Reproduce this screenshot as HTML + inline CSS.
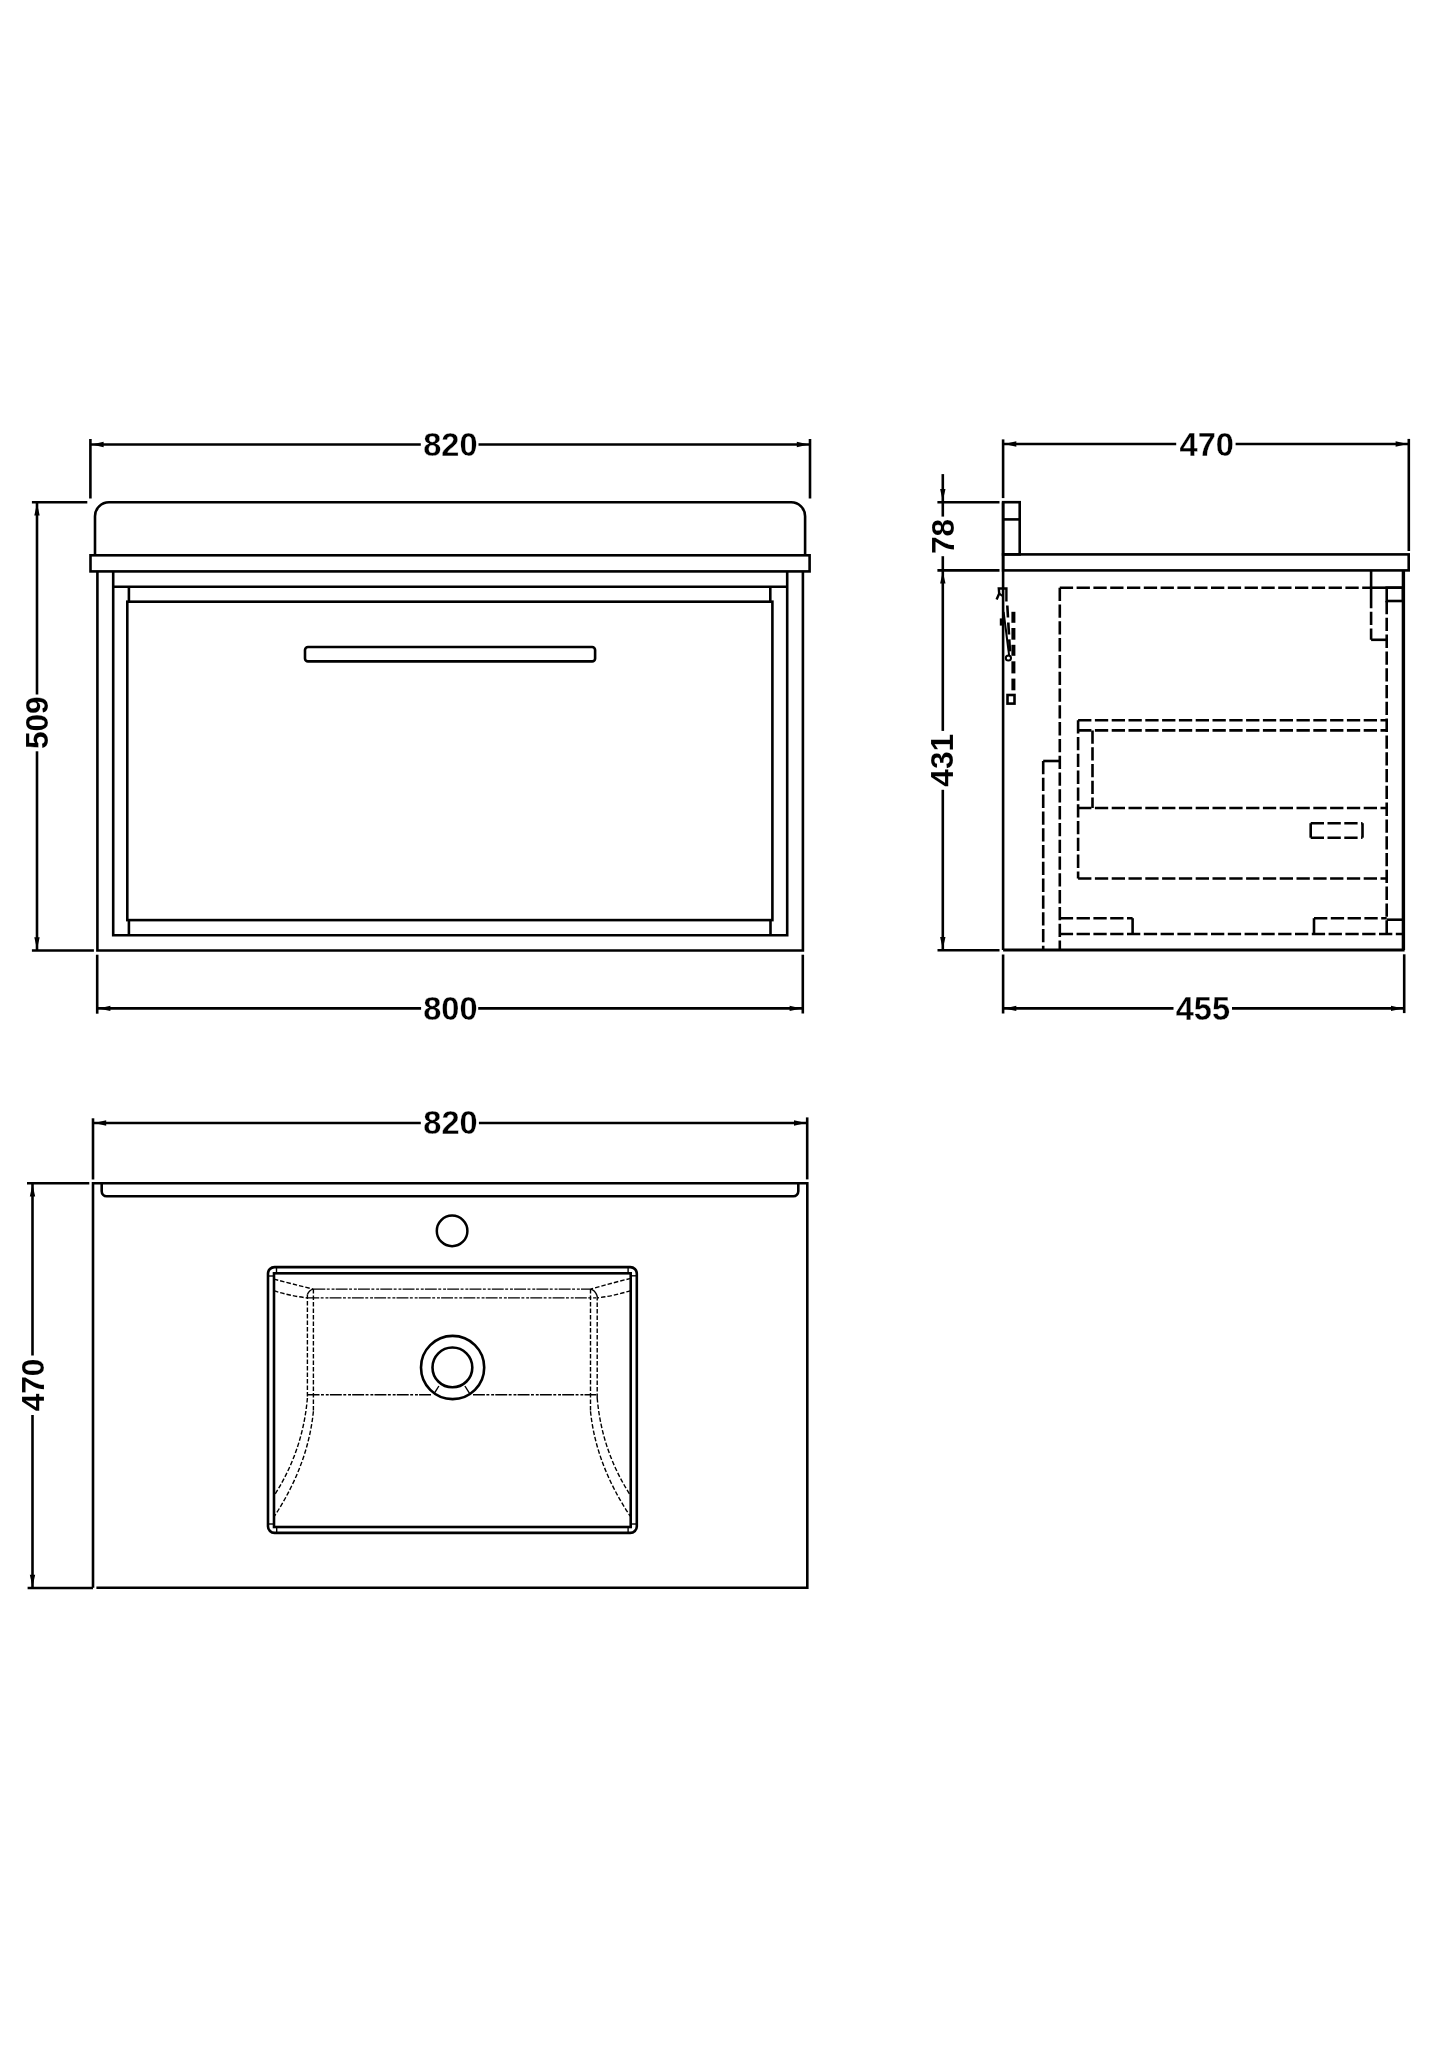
<!DOCTYPE html>
<html><head><meta charset="utf-8"><title>Vanity unit drawing</title>
<style>
html,body{margin:0;padding:0;background:#fff;}
svg{display:block;}
text{-webkit-font-smoothing:antialiased;}
text{font-family:"Liberation Sans",sans-serif;font-weight:bold;fill:#000;stroke:#fff;stroke-width:0.3px;}
text.r{stroke-width:0.07px;}
</style></head>
<body>
<svg width="1445" height="2045" viewBox="0 0 1445 2045" style="will-change:transform">
<rect x="0" y="0" width="1445" height="2045" fill="#fff"/>
<g stroke="#000" fill="none" stroke-linecap="butt" stroke-linejoin="miter">
<line x1="90.4" y1="439.0" x2="90.4" y2="498.5" stroke-width="2.6"/>
<line x1="810.0" y1="439.0" x2="810.0" y2="498.5" stroke-width="2.6"/>
<line x1="90.4" y1="444.5" x2="420.8" y2="444.5" stroke-width="2.6"/>
<line x1="478.5" y1="444.5" x2="810.0" y2="444.5" stroke-width="2.6"/>
<polygon points="91.6,444.5 103.6,441.8 103.6,447.2" fill="#000" stroke="none"/>
<polygon points="808.8,444.5 796.8,441.8 796.8,447.2" fill="#000" stroke="none"/>
<path d="M95,555.3 V516.2 A14,14 0 0 1 109,502.2 H791.1 A14,14 0 0 1 805.1,516.2 V555.3" stroke-width="2.6" fill="none"/>
<rect x="90.5" y="555.3" width="719.1" height="16.1" stroke-width="2.6" fill="none"/>
<path d="M97.4,571.4 V950.5 H802.9 V571.4" stroke-width="2.6" fill="none"/>
<path d="M113.2,571.4 V935.2 H787.2 V571.4" stroke-width="2.6" fill="none"/>
<line x1="113.2" y1="586.8" x2="787.2" y2="586.8" stroke-width="2.6"/>
<rect x="127.3" y="601.7" width="645.1" height="318.4" stroke-width="2.6" fill="none"/>
<line x1="128.9" y1="586.8" x2="128.9" y2="601.7" stroke-width="2.6"/>
<line x1="770.3" y1="586.8" x2="770.3" y2="601.7" stroke-width="2.6"/>
<line x1="128.9" y1="920.1" x2="128.9" y2="935.2" stroke-width="2.6"/>
<line x1="770.5" y1="920.1" x2="770.5" y2="935.2" stroke-width="2.6"/>
<rect x="305.0" y="647.0" width="290.1" height="14.4" rx="3" stroke-width="2.6" fill="none"/>
<line x1="31.9" y1="502.2" x2="87.3" y2="502.2" stroke-width="2.6"/>
<line x1="31.9" y1="950.5" x2="93.9" y2="950.5" stroke-width="2.6"/>
<line x1="37.0" y1="502.2" x2="37.0" y2="694.5" stroke-width="2.6"/>
<line x1="37.0" y1="751.3" x2="37.0" y2="950.5" stroke-width="2.6"/>
<polygon points="37.0,503.4 34.3,515.4 39.7,515.4" fill="#000" stroke="none"/>
<polygon points="37.0,949.3 34.3,937.3 39.7,937.3" fill="#000" stroke="none"/>
<line x1="97.2" y1="954.7" x2="97.2" y2="1013.7" stroke-width="2.6"/>
<line x1="802.8" y1="954.7" x2="802.8" y2="1013.5" stroke-width="2.6"/>
<line x1="97.2" y1="1008.4" x2="421.1" y2="1008.4" stroke-width="2.6"/>
<line x1="478.2" y1="1008.4" x2="802.8" y2="1008.4" stroke-width="2.6"/>
<polygon points="98.4,1008.4 110.4,1005.7 110.4,1011.1" fill="#000" stroke="none"/>
<polygon points="801.6,1008.4 789.6,1005.7 789.6,1011.1" fill="#000" stroke="none"/>
<line x1="1003.1" y1="439.4" x2="1003.1" y2="498.1" stroke-width="2.6"/>
<line x1="1408.8" y1="438.9" x2="1408.8" y2="551.0" stroke-width="2.6"/>
<line x1="1003.1" y1="444.0" x2="1176.2" y2="444.0" stroke-width="2.6"/>
<line x1="1235.6" y1="444.0" x2="1408.8" y2="444.0" stroke-width="2.6"/>
<polygon points="1004.3,444.0 1016.3,441.3 1016.3,446.7" fill="#000" stroke="none"/>
<polygon points="1407.6,444.0 1395.6,441.3 1395.6,446.7" fill="#000" stroke="none"/>
<rect x="1003.1" y="502.2" width="16.6" height="52.2" stroke-width="2.6" fill="none"/>
<line x1="1003.1" y1="519.4" x2="1019.7" y2="519.4" stroke-width="2.6"/>
<rect x="1003.1" y="554.4" width="405.6" height="16.0" stroke-width="2.6" fill="none"/>
<line x1="1003.1" y1="502.2" x2="1003.1" y2="950.0" stroke-width="2.6"/>
<line x1="1003.1" y1="950.0" x2="1404.6" y2="950.0" stroke-width="2.8"/>
<line x1="1403.4" y1="570.4" x2="1403.4" y2="950.0" stroke-width="3.4"/>
<line x1="937.4" y1="502.2" x2="999.5" y2="502.2" stroke-width="2.6"/>
<line x1="937.4" y1="570.4" x2="999.5" y2="570.4" stroke-width="2.6"/>
<line x1="937.5" y1="950.3" x2="999.5" y2="950.3" stroke-width="2.6"/>
<line x1="942.8" y1="474.1" x2="942.8" y2="516.6" stroke-width="2.6"/>
<line x1="942.8" y1="556.2" x2="942.8" y2="730.9" stroke-width="2.6"/>
<line x1="942.8" y1="789.8" x2="942.8" y2="950.3" stroke-width="2.6"/>
<polygon points="942.8,501.0 940.1,489.0 945.5,489.0" fill="#000" stroke="none"/>
<polygon points="942.8,571.6 940.1,583.6 945.5,583.6" fill="#000" stroke="none"/>
<polygon points="942.8,949.1 940.1,937.1 945.5,937.1" fill="#000" stroke="none"/>
<line x1="1003.1" y1="954.5" x2="1003.1" y2="1013.5" stroke-width="2.6"/>
<line x1="1404.2" y1="954.3" x2="1404.2" y2="1013.1" stroke-width="2.6"/>
<line x1="1003.1" y1="1008.4" x2="1173.5" y2="1008.4" stroke-width="2.6"/>
<line x1="1232.0" y1="1008.4" x2="1404.2" y2="1008.4" stroke-width="2.6"/>
<polygon points="1004.3,1008.4 1016.3,1005.7 1016.3,1011.1" fill="#000" stroke="none"/>
<polygon points="1403.0,1008.4 1391.0,1005.7 1391.0,1011.1" fill="#000" stroke="none"/>
<line x1="1059.8" y1="587.7" x2="1059.8" y2="950.0" stroke-width="2.6" stroke-dasharray="13.3 3.5" stroke-dashoffset="0"/>
<line x1="1059.8" y1="587.7" x2="1371.1" y2="587.7" stroke-width="2.6" stroke-dasharray="13.3 3.5" stroke-dashoffset="0"/>
<line x1="1386.7" y1="601.0" x2="1386.7" y2="934.0" stroke-width="2.6" stroke-dasharray="13.3 3.5" stroke-dashoffset="0"/>
<line x1="1371.1" y1="570.4" x2="1371.1" y2="595.0" stroke-width="2.6"/>
<line x1="1371.1" y1="595.0" x2="1371.1" y2="639.8" stroke-width="2.6" stroke-dasharray="13.3 3.5" stroke-dashoffset="0"/>
<line x1="1371.1" y1="639.8" x2="1386.7" y2="639.8" stroke-width="2.6"/>
<line x1="1371.1" y1="587.7" x2="1403.0" y2="587.7" stroke-width="2.6"/>
<rect x="1386.7" y="587.7" width="16.3" height="13.3" stroke-width="2.6" fill="none"/>
<line x1="1078.1" y1="720.2" x2="1078.1" y2="878.5" stroke-width="2.6" stroke-dasharray="13.3 3.5" stroke-dashoffset="0"/>
<line x1="1078.1" y1="720.2" x2="1386.7" y2="720.2" stroke-width="2.6" stroke-dasharray="13.3 3.5" stroke-dashoffset="0"/>
<line x1="1078.1" y1="878.5" x2="1386.7" y2="878.5" stroke-width="2.6" stroke-dasharray="13.3 3.5" stroke-dashoffset="0"/>
<line x1="1078.1" y1="730.4" x2="1386.7" y2="730.4" stroke-width="2.6" stroke-dasharray="13.3 3.5" stroke-dashoffset="0"/>
<line x1="1092.5" y1="730.4" x2="1092.5" y2="808.0" stroke-width="2.6" stroke-dasharray="13.3 3.5" stroke-dashoffset="0"/>
<line x1="1078.1" y1="808.0" x2="1386.7" y2="808.0" stroke-width="2.6" stroke-dasharray="13.3 3.5" stroke-dashoffset="0"/>
<line x1="1310.7" y1="823.2" x2="1362.5" y2="823.2" stroke-width="2.6" stroke-dasharray="13.3 3.5" stroke-dashoffset="0"/>
<line x1="1310.7" y1="837.7" x2="1362.5" y2="837.7" stroke-width="2.6" stroke-dasharray="13.3 3.5" stroke-dashoffset="0"/>
<line x1="1310.7" y1="823.2" x2="1310.7" y2="837.7" stroke-width="2.6"/>
<line x1="1362.5" y1="823.2" x2="1362.5" y2="837.7" stroke-width="2.6"/>
<line x1="1043.2" y1="761.0" x2="1043.2" y2="950.0" stroke-width="2.6" stroke-dasharray="13.3 3.5" stroke-dashoffset="0"/>
<line x1="1043.2" y1="761.0" x2="1059.8" y2="761.0" stroke-width="2.6"/>
<line x1="1059.8" y1="918.2" x2="1132.6" y2="918.2" stroke-width="2.6" stroke-dasharray="13.3 3.5" stroke-dashoffset="0"/>
<line x1="1132.6" y1="918.2" x2="1132.6" y2="934.0" stroke-width="2.6"/>
<line x1="1314.0" y1="918.2" x2="1386.7" y2="918.2" stroke-width="2.6" stroke-dasharray="13.3 3.5" stroke-dashoffset="0"/>
<line x1="1314.0" y1="918.2" x2="1314.0" y2="934.0" stroke-width="2.6"/>
<line x1="1386.7" y1="919.7" x2="1403.0" y2="919.7" stroke-width="2.6"/>
<line x1="1059.8" y1="934.0" x2="1403.0" y2="934.0" stroke-width="2.6" stroke-dasharray="13.3 3.5" stroke-dashoffset="0"/>
<path d="M996.6,599.6 L999.2,593.6 L998.8,588.5 H1006.4 V601.4" stroke-width="2.4" fill="none"/>
<path d="M999.2,593.6 L1002.9,596.2" stroke-width="2.0" fill="none"/>
<path d="M1003.6,612 L1009.2,656" stroke-width="2.0" fill="none"/>
<rect x="1000.6" y="619.2" width="1.6" height="5.6" stroke-width="1.6" fill="none"/>
<line x1="1007.3" y1="605.5" x2="1010.0" y2="652.0" stroke-width="2.6" stroke-dasharray="12 5" stroke-dashoffset="0"/>
<circle cx="1008.4" cy="658" r="2.6" stroke-width="2" fill="none"/>
<line x1="1013.4" y1="611.8" x2="1013.4" y2="622.8" stroke-width="4.0"/>
<line x1="1013.4" y1="628.0" x2="1013.4" y2="639.7" stroke-width="4.0"/>
<line x1="1013.4" y1="644.8" x2="1013.4" y2="655.8" stroke-width="4.0"/>
<line x1="1013.4" y1="661.3" x2="1013.4" y2="673.4" stroke-width="4.0"/>
<line x1="1013.4" y1="678.6" x2="1013.4" y2="690.3" stroke-width="4.0"/>
<rect x="1007.5" y="695.0" width="7.0" height="8.6" stroke-width="2.6" fill="none"/>
<line x1="93.0" y1="1118.3" x2="93.0" y2="1179.5" stroke-width="2.6"/>
<line x1="807.2" y1="1117.4" x2="807.2" y2="1179.4" stroke-width="2.6"/>
<line x1="93.0" y1="1123.0" x2="420.8" y2="1123.0" stroke-width="2.6"/>
<line x1="478.9" y1="1123.0" x2="807.2" y2="1123.0" stroke-width="2.6"/>
<polygon points="94.2,1123.0 106.2,1120.3 106.2,1125.7" fill="#000" stroke="none"/>
<polygon points="806.0,1123.0 794.0,1120.3 794.0,1125.7" fill="#000" stroke="none"/>
<path d="M93,1587.8 V1183.2 H807.3 V1587.8 H96.4" stroke-width="2.6" fill="none"/>
<path d="M101.7,1183.2 V1191.3 A5,5 0 0 0 106.7,1196.3 H793.3 A5,5 0 0 0 798.3,1191.3 V1183.2" stroke-width="2.6" fill="none"/>
<circle cx="452.1" cy="1230.9" r="15.3" stroke-width="2.5" fill="none"/>
<rect x="268.0" y="1267.1" width="368.8" height="265.8" rx="6.5" stroke-width="2.6" fill="none"/>
<rect x="274.0" y="1273.3" width="356.7" height="253.7" stroke-width="2.6" fill="none"/>
<line x1="276.5" y1="1267.1" x2="276.5" y2="1273.3" stroke-width="1.4"/>
<line x1="268.0" y1="1276.0" x2="274.0" y2="1276.0" stroke-width="1.4"/>
<line x1="628.1" y1="1267.1" x2="628.1" y2="1273.3" stroke-width="1.4"/>
<line x1="630.7" y1="1275.8" x2="636.8" y2="1275.8" stroke-width="1.4"/>
<line x1="268.0" y1="1524.0" x2="274.0" y2="1524.0" stroke-width="1.4"/>
<line x1="276.7" y1="1527.0" x2="276.7" y2="1532.9" stroke-width="1.4"/>
<line x1="630.7" y1="1524.0" x2="636.8" y2="1524.0" stroke-width="1.4"/>
<line x1="628.1" y1="1527.0" x2="628.1" y2="1532.9" stroke-width="1.4"/>
<line x1="313.4" y1="1289.1" x2="590.5" y2="1289.1" stroke-width="1.4" stroke-dasharray="11.9 1.5 2.9 1.9 2.9 1.2" stroke-dashoffset="0"/>
<line x1="307.3" y1="1297.9" x2="597.2" y2="1297.9" stroke-width="1.4" stroke-dasharray="11.9 1.5 2.9 1.9 2.9 1.2" stroke-dashoffset="0"/>
<line x1="307.6" y1="1394.8" x2="431.5" y2="1394.8" stroke-width="1.4" stroke-dasharray="11.9 1.5 2.9 1.9 2.9 1.2" stroke-dashoffset="0"/>
<line x1="473.0" y1="1394.8" x2="597.2" y2="1394.8" stroke-width="1.4" stroke-dasharray="11.9 1.5 2.9 1.9 2.9 1.2" stroke-dashoffset="0"/>
<line x1="307.4" y1="1294.6" x2="307.4" y2="1398.0" stroke-width="1.4" stroke-dasharray="4.5 2" stroke-dashoffset="0"/>
<line x1="313.4" y1="1289.1" x2="313.4" y2="1411.3" stroke-width="1.4" stroke-dasharray="4.5 2" stroke-dashoffset="0"/>
<line x1="597.2" y1="1296.0" x2="597.2" y2="1398.0" stroke-width="1.4" stroke-dasharray="4.5 2" stroke-dashoffset="0"/>
<line x1="590.5" y1="1289.1" x2="590.5" y2="1411.3" stroke-width="1.4" stroke-dasharray="4.5 2" stroke-dashoffset="0"/>
<path d="M313.4,1289.1 Q309,1290 307.4,1294.6" stroke-width="1.4" fill="none"/>
<path d="M590.5,1289.1 Q595,1290 597.2,1296" stroke-width="1.4" fill="none"/>
<path d="M274,1279.1 Q292,1284 313.4,1289.1" stroke-width="1.4" fill="none" stroke-dasharray="4.5 2"/>
<path d="M274,1290.7 Q290,1296 307.4,1297.9" stroke-width="1.4" fill="none" stroke-dasharray="4.5 2"/>
<path d="M630.7,1278.4 Q612,1283 590.5,1289.1" stroke-width="1.4" fill="none" stroke-dasharray="4.5 2"/>
<path d="M630.7,1290.6 Q614,1296 597.2,1297.9" stroke-width="1.4" fill="none" stroke-dasharray="4.5 2"/>
<path d="M307.4,1398 Q303,1450 275,1494.2" stroke-width="1.4" fill="none" stroke-dasharray="4.5 2"/>
<path d="M313.4,1411.3 Q308,1465 274.4,1516.2" stroke-width="1.4" fill="none" stroke-dasharray="4.5 2"/>
<path d="M597.2,1398 Q601.6,1450 629.7,1494.2" stroke-width="1.4" fill="none" stroke-dasharray="4.5 2"/>
<path d="M590.5,1411.3 Q596,1465 630.3,1516.2" stroke-width="1.4" fill="none" stroke-dasharray="4.5 2"/>
<circle cx="452.6" cy="1367.5" r="31.6" stroke-width="2.6" fill="none"/>
<circle cx="452.4" cy="1367.4" r="19.9" stroke-width="2.6" fill="none"/>
<line x1="438.9" y1="1386.0" x2="434.4" y2="1393.2" stroke-width="1.4"/>
<line x1="464.9" y1="1386.0" x2="469.7" y2="1393.6" stroke-width="1.4"/>
<line x1="27.0" y1="1183.2" x2="89.3" y2="1183.2" stroke-width="2.6"/>
<line x1="27.6" y1="1588.0" x2="93.0" y2="1588.0" stroke-width="2.6"/>
<line x1="32.5" y1="1183.2" x2="32.5" y2="1355.5" stroke-width="2.6"/>
<line x1="32.5" y1="1415.0" x2="32.5" y2="1588.0" stroke-width="2.6"/>
<polygon points="32.5,1184.4 29.8,1196.4 35.2,1196.4" fill="#000" stroke="none"/>
<polygon points="32.5,1586.8 29.8,1574.8 35.2,1574.8" fill="#000" stroke="none"/>
<text x="450.35" y="443.9" text-anchor="middle" dy="0.36em" font-size="32.6">820</text>
<text x="0" y="0" transform="translate(36.7,722.7) rotate(-90)" text-anchor="middle" dy="0.36em" font-size="31.6" class="r">509</text>
<text x="450.35" y="1008.1" text-anchor="middle" dy="0.36em" font-size="32.6">800</text>
<text x="1206.8" y="443.8" text-anchor="middle" dy="0.36em" font-size="32.6">470</text>
<text x="0" y="0" transform="translate(942.5,536.4) rotate(-90)" text-anchor="middle" dy="0.36em" font-size="31.6" class="r">78</text>
<text x="0" y="0" transform="translate(942.0,760.3) rotate(-90)" text-anchor="middle" dy="0.36em" font-size="31.6" class="r">431</text>
<text x="1202.9" y="1008.5" text-anchor="middle" dy="0.36em" font-size="32.6">455</text>
<text x="450.5" y="1122.5" text-anchor="middle" dy="0.36em" font-size="32.6">820</text>
<text x="0" y="0" transform="translate(32.6,1385.0) rotate(-90)" text-anchor="middle" dy="0.36em" font-size="31.6" class="r">470</text>
</g>
</svg>
</body></html>
